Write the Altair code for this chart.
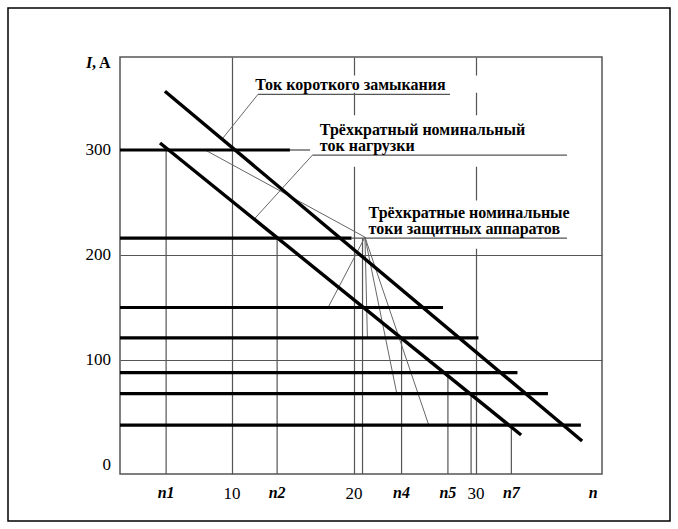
import altair as alt
import pandas as pd

# ---------------- data ----------------
# horizontal thick lines: current level I (A) and n where each line ends
levels = [300, 216, 150, 121, 88, 68, 38]
level_end = [14.75, 19.8, 27.3, 30.2, 33.4, 35.9, 38.6]
n_min, n_max = 0.82, 40.33
i_min, i_max = -8.57, 388.57

# diagonal lines (n, I) start -> end
sc_n = [4.5, 38.7]          # short-circuit current
sc_i = [356.0, 22.9]
load_n = [4.1, 33.7]        # three-fold rated load current
load_i = [306.7, 28.6]

# vertical drop lines from intersections down to the n axis
drop_n = [4.6, 13.7, 20.7, 23.9, 27.7, 29.6, 32.9]
drop_top = [300, 216, 216, 121, 88, 68, 38]

# tick labels
x_tick_vals = [4.6, 10, 13.7, 20, 23.9, 27.7, 30, 32.9, 39.6]
x_tick_labels = ["n1", "10", "n2", "20", "n4", "n5", "30", "n7", "n"]
y_tick_vals = [0, 100, 200, 300]

# fan of leader lines from the "protective devices" label corner
fan_origin_n, fan_origin_i = 20.9, 217.0
fan_n = [7.8, 17.9, 21.1, 23.5, 26.1]
fan_i = [300.0, 150.5, 121.0, 68.6, 39.0]

# label leader lines (n1, I1, n2, I2)
leader_n1 = [12.13, 16.6]
leader_i1 = [353.0, 295.2]
leader_n2 = [9.26, 11.9]
leader_i2 = [311.4, 235.2]

# underlines and thin continuation segments (n1, n2, I)
under_n1 = [12.13, 16.6, 19.8, 14.75]
under_n2 = [27.87, 37.46, 37.46, 16.4]
under_i = [353.0, 295.2, 216.0, 300.0]

# annotation texts
ann_text = ["Ток короткого замыкания", "Трёхкратный номинальный", "ток нагрузки",
            "Трёхкратные номинальные", "токи защитных аппаратов"]
ann_n = [11.9, 17.2, 17.2, 21.2, 21.2]
ann_i = [361.5, 319.0, 304.0, 240.0, 224.8]

# white label backgrounds (n1, n2, I1, I2)
box_n1 = [11.5, 16.8, 21.1]
box_n2 = [31.1, 37.7, 38.5]
box_i1 = [354.5, 284.0, 206.0]
box_i2 = [371.0, 333.0, 252.0]

FONT = "Liberation Serif"
GRID = "#555555"

xs = alt.Scale(domain=[n_min, n_max], nice=False, zero=False)
ys = alt.Scale(domain=[i_min, i_max], nice=False, zero=False)
xaxis = alt.Axis(values=[10, 20, 30], grid=True, labels=False, ticks=False,
                 domain=False, title=None, gridColor=GRID, gridWidth=1.2)
yaxis = alt.Axis(values=[100, 200], grid=True, labels=False, ticks=False,
                 domain=False, title=None, gridColor=GRID, gridWidth=1.2)


def X(f):
    return alt.X(f, type="quantitative", scale=xs, axis=xaxis)


def Y(f):
    return alt.Y(f, type="quantitative", scale=ys, axis=yaxis)


# tables
horiz = pd.DataFrame({"n1": [n_min] * len(levels), "n2": level_end, "i": levels})
diag = pd.DataFrame({"n1": [sc_n[0], load_n[0]], "n2": [sc_n[1], load_n[1]],
                     "i1": [sc_i[0], load_i[0]], "i2": [sc_i[1], load_i[1]]})
drops = pd.DataFrame({"n": drop_n, "i1": drop_top, "i2": [i_min] * len(drop_n)})
fan = pd.DataFrame({"n1": [fan_origin_n] * len(fan_n), "i1": [fan_origin_i] * len(fan_n),
                    "n2": fan_n, "i2": fan_i})
leaders = pd.DataFrame({"n1": leader_n1, "i1": leader_i1, "n2": leader_n2, "i2": leader_i2})
unders = pd.DataFrame({"n1": under_n1, "n2": under_n2, "i": under_i})
anns = pd.DataFrame({"t": ann_text, "n": ann_n, "i": ann_i})
boxes = pd.DataFrame({"n1": box_n1, "n2": box_n2, "i1": box_i1, "i2": box_i2})
is_num = [lbl.isdigit() for lbl in x_tick_labels]
xt_num = pd.DataFrame({"n": [v for v, d in zip(x_tick_vals, is_num) if d],
                       "t": [l for l, d in zip(x_tick_labels, is_num) if d],
                       "i": i_min})
xt_sym = pd.DataFrame({"n": [v for v, d in zip(x_tick_vals, is_num) if not d],
                       "t": [l for l, d in zip(x_tick_labels, is_num) if not d],
                       "i": i_min})
yt = pd.DataFrame({"i": y_tick_vals, "t": [str(v) for v in y_tick_vals], "n": n_min})

layers = []

# white backgrounds of labels (cover the grid)
layers.append(alt.Chart(boxes).mark_rect(fill="white", stroke=None).encode(
    x=X("n1"), x2="n2", y=Y("i1"), y2="i2"))

# vertical drop lines
layers.append(alt.Chart(drops).mark_rule(color=GRID, strokeWidth=1.2).encode(
    x=X("n"), y=Y("i1"), y2="i2"))

# fan lines, leaders, underlines
layers.append(alt.Chart(fan).mark_rule(color="#666666", strokeWidth=1).encode(
    x=X("n1"), y=Y("i1"), x2="n2", y2="i2"))
layers.append(alt.Chart(leaders).mark_rule(color="#666666", strokeWidth=1).encode(
    x=X("n1"), y=Y("i1"), x2="n2", y2="i2"))
layers.append(alt.Chart(unders).mark_rule(color="#555555", strokeWidth=1.3).encode(
    x=X("n1"), x2="n2", y=Y("i")))

# thick horizontal and diagonal lines
layers.append(alt.Chart(horiz).mark_rule(color="black", strokeWidth=3.2).encode(
    x=X("n1"), x2="n2", y=Y("i")))
layers.append(alt.Chart(diag).mark_rule(color="black", strokeWidth=3.4).encode(
    x=X("n1"), y=Y("i1"), x2="n2", y2="i2"))

# annotations
layers.append(alt.Chart(anns).mark_text(font=FONT, fontSize=16, fontWeight="bold",
                                        align="left", baseline="middle", color="black").encode(
    x=X("n"), y=Y("i"), text="t"))

# tick labels
layers.append(alt.Chart(xt_num).mark_text(font=FONT, fontSize=17, align="center",
                                          baseline="middle", dy=20, color="black").encode(
    x=X("n"), y=Y("i"), text="t"))
layers.append(alt.Chart(xt_sym).mark_text(font=FONT, fontSize=16, fontWeight="bold",
                                          fontStyle="italic", align="center",
                                          baseline="middle", dy=19, color="black").encode(
    x=X("n"), y=Y("i"), text="t"))
layers.append(alt.Chart(yt).mark_text(font=FONT, fontSize=17, align="right",
                                      baseline="middle", dx=-9, color="black").encode(
    x=X("n"), y=Y("i"), text="t"))

# axis title "I, A"
title_df = pd.DataFrame({"t": ["I", ", A"], "n": [n_min, n_min], "i": [i_max, i_max]})
layers.append(alt.Chart(title_df.iloc[[0]]).mark_text(
    font=FONT, fontSize=16, fontWeight="bold", fontStyle="italic", align="left",
    baseline="middle", dx=-34, dy=6, color="black").encode(x=X("n"), y=Y("i"), text="t"))
layers.append(alt.Chart(title_df.iloc[[1]]).mark_text(
    font=FONT, fontSize=16, fontWeight="bold", align="left",
    baseline="middle", dx=-28, dy=6, color="black").encode(x=X("n"), y=Y("i"), text="t"))

# outer picture frame
frame = alt.Chart(pd.DataFrame({"a": [0]})).mark_rect(
    fill="white", fillOpacity=0, stroke="black", strokeWidth=1.5).encode(
    x=alt.value(-112), x2=alt.value(550), y=alt.value(-49), y2=alt.value(464))
layers.append(frame)

chart = alt.layer(*layers).properties(
    width=482, height=417, autosize="none",
    padding={"left": 120, "top": 57, "right": 76, "bottom": 55},
    background="white",
).configure_view(stroke=GRID, strokeWidth=1.5)

chart.save("out.html", embed_options={"renderer": "svg", "actions": False})
